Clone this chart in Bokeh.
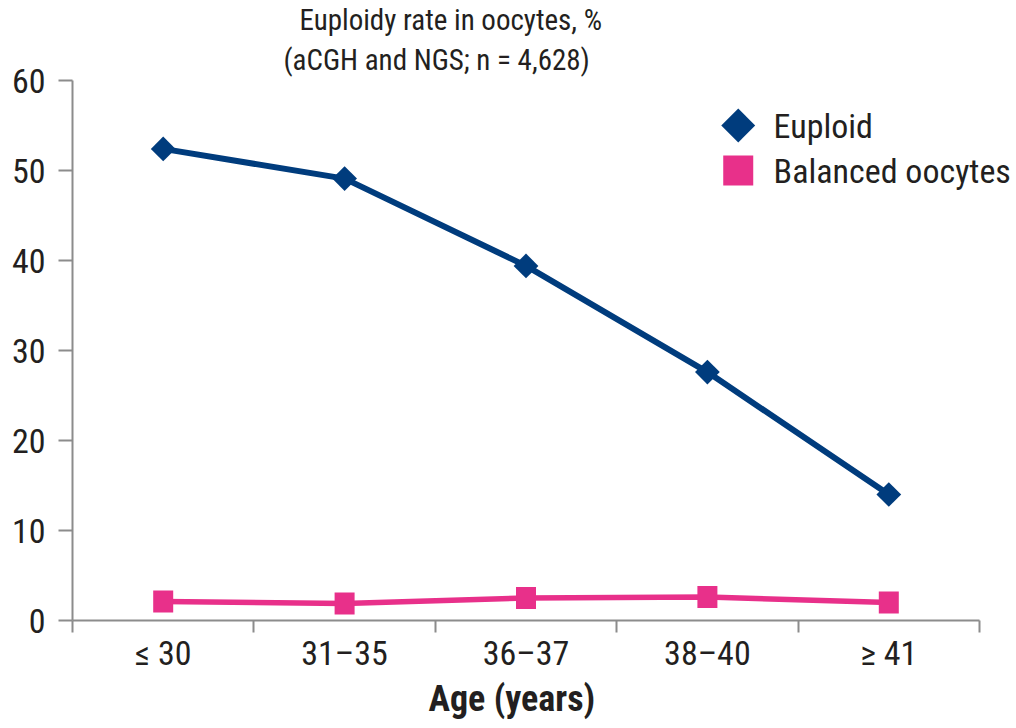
import math

from bokeh.plotting import figure
from bokeh.models import Range1d, FixedTicker, Title, Label
from bokeh.embed import file_html
from bokeh.resources import INLINE

# Data: euploidy rate in oocytes by maternal age group (%)
age_groups = ["≤ 30", "31–35", "36–37", "38–40", "≥ 41"]
euploid = [52.4, 49.1, 39.4, 27.6, 14.0]
balanced = [2.1, 1.9, 2.5, 2.6, 2.0]
y_ticks = [0, 10, 20, 30, 40, 50, 60]
series_names = ["Euploid", "Balanced oocytes"]

FONT = "Roboto Condensed"
NAVY = "#003c7d"
PINK = "#e8308a"
INK = "#231f20"
GREY = "#8c8c8c"

xs = list(range(len(age_groups)))
boundaries = [i - 0.5 for i in range(len(age_groups) + 1)]

# frame runs to the right edge so the legend text has room; the axis stops at the last group
FRAME_L, AXIS_R, CANVAS_W = 72, 979, 1016
x_end = -0.5 + len(age_groups) * (CANVAS_W - FRAME_L) / (AXIS_R - FRAME_L)

p = figure(
    width=CANVAS_W, height=728,
    output_backend="svg", toolbar_location=None, title=None,
    x_range=Range1d(-0.5, x_end),
    y_range=Range1d(0, 60),
    min_border_left=FRAME_L, min_border_right=0,
    min_border_top=79, min_border_bottom=108,
)
p.outline_line_color = None
p.xgrid.visible = False
p.ygrid.visible = False

xa = p.xaxis[0]
xa.bounds = (-0.5, len(age_groups) - 0.5)
xa.ticker = FixedTicker(ticks=xs, minor_ticks=boundaries)
xa.major_label_overrides = {i: lab for i, lab in enumerate(age_groups)}
xa.axis_line_color = GREY
xa.axis_line_width = 2
xa.major_tick_out = 0
xa.major_tick_in = 0
xa.minor_tick_out = 12
xa.minor_tick_in = 0
xa.minor_tick_line_color = GREY
xa.minor_tick_line_width = 2
xa.major_label_standoff = 0
xa.major_label_text_font = FONT
xa.major_label_text_font_size = "34px"
xa.major_label_text_color = INK

ya = p.yaxis[0]
ya.ticker = FixedTicker(ticks=y_ticks, minor_ticks=[])
ya.axis_line_color = GREY
ya.axis_line_width = 2
ya.major_tick_out = 14
ya.major_tick_in = 0
ya.major_tick_line_color = GREY
ya.major_tick_line_width = 2
ya.minor_tick_out = 0
ya.minor_tick_in = 0
ya.major_label_standoff = 13
ya.major_label_text_font = FONT
ya.major_label_text_font_size = "34px"
ya.major_label_text_color = INK

# x-axis title, set slightly left of the frame centre
p.add_layout(Title(text="Age (years)", align="left", offset=356,
                   text_font=FONT, text_font_size="36px", text_font_style="bold",
                   text_color=INK, standoff=0), "below")

p.line(xs, balanced, line_width=5.5, line_color=PINK, line_join="round")
p.rect(x=xs, y=balanced, width=20, height=22,
       width_units="screen", height_units="screen",
       fill_color=PINK, line_color=None)

p.line(xs, euploid, line_width=6, line_color=NAVY, line_join="round")
p.scatter(xs, euploid, marker="square", angle=math.pi / 4, size=17.5,
          fill_color=NAVY, line_color=None)

# Legend (upper right)
LEG_X = 3.17
LEG_TX = 3.365
LEG_Y = [55.0, 50.0]
p.scatter([LEG_X], [LEG_Y[0]], marker="square", angle=math.pi / 4, size=24,
          fill_color=NAVY, line_color=None)
p.rect(x=[LEG_X], y=[LEG_Y[1]], width=30, height=30,
       width_units="screen", height_units="screen",
       fill_color=PINK, line_color=None)
for name, yv in zip(series_names, LEG_Y):
    p.add_layout(Label(x=LEG_TX, y=yv, text=name, text_font=FONT,
                       text_font_size="34px", text_color=INK,
                       text_baseline="middle", text_align="left"))

# Two-line heading above the plot
line2 = Title(text="(aCGH and NGS; n = 4,628)", align="left", offset=211,
              text_font=FONT, text_font_size="29px", text_font_style="normal",
              text_color=INK, standoff=8)
line1 = Title(text="Euploidy rate in oocytes, %", align="left", offset=227,
              text_font=FONT, text_font_size="29px", text_font_style="normal",
              text_color=INK, standoff=0)
p.add_layout(line2, "above")
p.add_layout(line1, "above")

open("out.html", "w").write(file_html(p, INLINE))
